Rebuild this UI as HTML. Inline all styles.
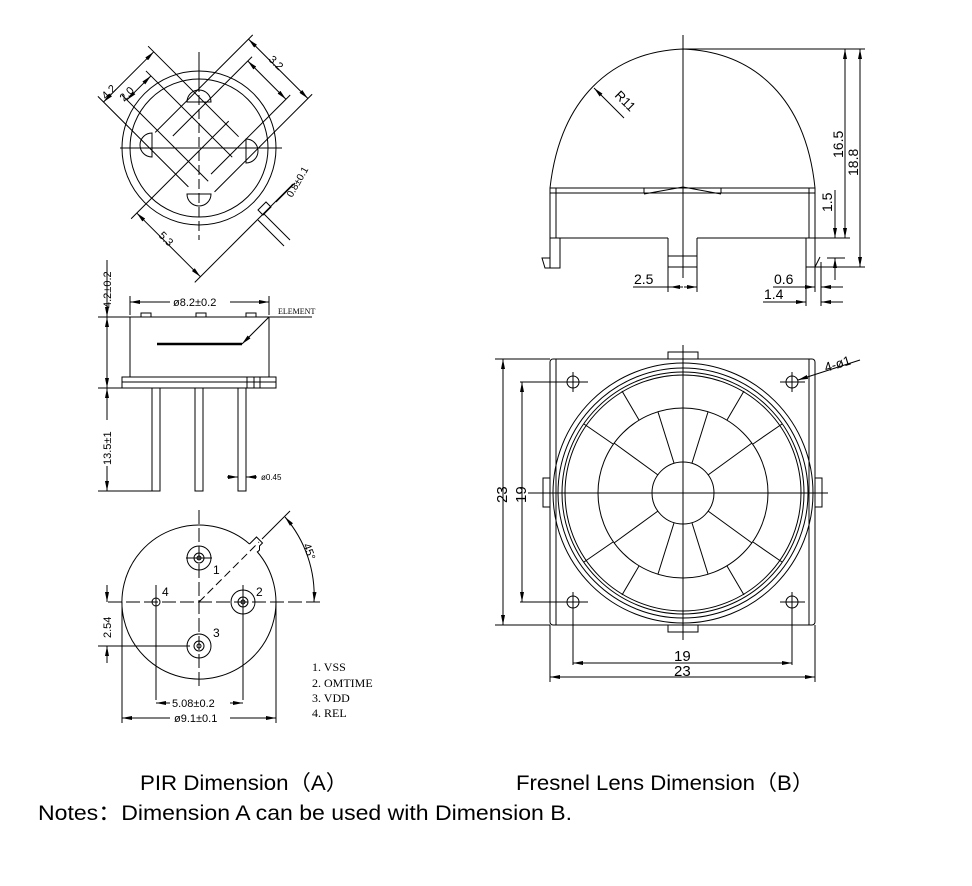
<!DOCTYPE html>
<html><head><meta charset="utf-8"><style>
html,body{margin:0;padding:0;background:#fff}
svg{display:block}
.t{font-family:"Liberation Sans",sans-serif;fill:#000;stroke:none}
.m{font-family:"Liberation Sans",sans-serif;fill:#000;stroke:none}
.s{font-family:"Liberation Serif",serif;fill:#000;stroke:none}
</style></head><body>
<svg width="972" height="886" viewBox="0 0 972 886" xmlns="http://www.w3.org/2000/svg">
<defs>
<marker id="a" viewBox="0 0 10 4" refX="10" refY="2" markerWidth="10" markerHeight="4" markerUnits="userSpaceOnUse" orient="auto-start-reverse"><path d="M0,0 L10,2 L0,4 z" fill="#000" stroke="none"/></marker>
</defs>
<g fill="none" stroke="#000" stroke-width="1">

<!-- ===== PIR top view ===== -->
<circle cx="199" cy="148" r="77"/>
<circle cx="199" cy="148" r="69"/>
<line x1="120" y1="148" x2="282" y2="148"/>
<line x1="199" y1="95" x2="199" y2="240" stroke-dasharray="10,4"/>
<line x1="199" y1="52" x2="199" y2="92"/>
<path d="M187,102 a12,12 0 0 1 24,0 z"/>
<path d="M152,133 a12,12 0 0 0 0,24 z"/>
<path d="M246,139 a12,12 0 0 1 0,24 z"/>
<path d="M187,194 a12,12 0 0 0 24,0 z"/>
<g transform="rotate(-45 199 148)">
 <g transform="translate(199 148)">
  <line x1="-35" y1="-108" x2="-35" y2="20"/>
  <line x1="36" y1="-108" x2="36" y2="20"/>
  <line x1="-17" y1="-92" x2="-17" y2="30"/>
  <line x1="17" y1="-92" x2="17" y2="30"/>
  <line x1="-35" y1="-100" x2="36" y2="-100" marker-start="url(#a)" marker-end="url(#a)"/>
  <line x1="-17" y1="-85" x2="17" y2="-85" marker-start="url(#a)" marker-end="url(#a)"/>
  <line x1="-20" y1="-42" x2="118" y2="-42"/>
  <line x1="-20" y1="42" x2="118" y2="42"/>
  <line x1="-10" y1="-27" x2="102" y2="-27"/>
  <line x1="-10" y1="27" x2="102" y2="27"/>
  <line x1="112" y1="-42" x2="112" y2="42" marker-start="url(#a)" marker-end="url(#a)"/>
  <line x1="96" y1="-27" x2="96" y2="27" marker-start="url(#a)" marker-end="url(#a)"/>
  <line x1="-98" y1="2" x2="40" y2="2"/>
  <line x1="-98" y1="92" x2="40" y2="92"/>
  <line x1="-90" y1="2" x2="-90" y2="92" marker-start="url(#a)" marker-end="url(#a)"/>
 </g>
</g>
<path d="M258,210 l8,-8 l5,5 l-8,8 z"/>
<line x1="264" y1="214" x2="290" y2="240"/>
<line x1="258" y1="220" x2="284" y2="246"/>
<line x1="276" y1="202" x2="295" y2="183"/>
<text class="m" font-size="11" transform="translate(106,100) rotate(-45)">4.2</text>
<text class="m" font-size="11" transform="translate(124,102) rotate(-45)">2.0</text>
<text class="m" font-size="11" transform="translate(268,60) rotate(45)">3.2</text>
<text class="m" font-size="11" transform="translate(158,236) rotate(45)">5.3</text>
<text class="m" font-size="10" transform="translate(292,198) rotate(-60)">0.8±0.1</text>

<!-- ===== PIR side view ===== -->
<path d="M130,317 h139 v60 h-139 z"/>
<path d="M141,317 v-4 h10 v4 M196,317 v-4 h10 v4 M246,317 v-4 h10 v4"/>
<rect x="122" y="377" width="154" height="11"/>
<line x1="122" y1="382" x2="276" y2="382"/>
<line x1="247" y1="377" x2="247" y2="388"/><line x1="254" y1="377" x2="254" y2="388"/><line x1="260" y1="377" x2="260" y2="388"/>
<rect x="152" y="388" width="8" height="103"/>
<rect x="195" y="388" width="8" height="103"/>
<rect x="238" y="388" width="8" height="103"/>
<line x1="157" y1="344" x2="242" y2="344" stroke-width="2.5"/>
<line x1="242" y1="344" x2="269" y2="317" marker-start="url(#a)"/>
<line x1="269" y1="317" x2="312" y2="317"/>
<text class="s" font-size="8" x="278" y="314">ELEMENT</text>
<line x1="130" y1="315" x2="130" y2="296"/><line x1="269" y1="315" x2="269" y2="296"/>
<line x1="130" y1="302" x2="269" y2="302" marker-start="url(#a)" marker-end="url(#a)"/>
<rect x="170" y="295" width="60" height="14" fill="#fff" stroke="none"/>
<text class="m" font-size="11" x="173" y="306">ø8.2±0.2</text>
<line x1="98" y1="317" x2="130" y2="317"/><line x1="98" y1="388" x2="122" y2="388"/><line x1="98" y1="491" x2="152" y2="491"/>
<line x1="107" y1="260" x2="107" y2="317" marker-end="url(#a)"/>
<line x1="107" y1="317" x2="107" y2="388" marker-start="url(#a)" marker-end="url(#a)"/>
<line x1="107" y1="388" x2="107" y2="491" marker-start="url(#a)" marker-end="url(#a)"/>
<rect x="100" y="420" width="14" height="46" fill="#fff" stroke="none"/>
<text class="m" font-size="11" transform="translate(111,308) rotate(-90)">4.2±0.2</text>
<text class="m" font-size="11" transform="translate(111,465) rotate(-90)">13.5±1</text>
<line x1="227" y1="477" x2="238" y2="477" marker-end="url(#a)"/>
<line x1="257" y1="477" x2="246" y2="477" marker-end="url(#a)"/>
<text class="m" font-size="8" x="261" y="480">ø0.45</text>

<!-- ===== PIR bottom view ===== -->
<path d="M249.5,544 A77,77 0 1 0 257,551.5"/>
<path d="M249.5,544 l7,-7 l6,6 l-3,3 v4 l-2,2"/>
<line x1="199" y1="602" x2="259" y2="542" stroke-dasharray="8,4"/>
<line x1="262" y1="539" x2="290" y2="511"/>
<line x1="108" y1="602" x2="320" y2="602" stroke-dasharray="14,4"/>
<line x1="199" y1="510" x2="199" y2="690" stroke-dasharray="14,4"/>
<path d="M285,517 A120,120 0 0 1 314,602" marker-start="url(#a)" marker-end="url(#a)"/>
<text class="m" font-size="11" transform="translate(303,545) rotate(70)">45°</text>
<circle cx="199" cy="558" r="12"/><circle cx="199" cy="558" r="5"/><circle cx="199" cy="558" r="2"/>
<line x1="186" y1="558" x2="212" y2="558"/>
<circle cx="243" cy="602" r="12"/><circle cx="243" cy="602" r="5"/><circle cx="243" cy="602" r="2"/>
<line x1="243" y1="585" x2="243" y2="700"/>
<circle cx="199" cy="646" r="12"/><circle cx="199" cy="646" r="5"/><circle cx="199" cy="646" r="2"/>
<circle cx="156" cy="602" r="4"/>
<line x1="156" y1="585" x2="156" y2="700"/>
<text class="t" font-size="12" x="213" y="574">1</text>
<text class="t" font-size="12" x="256" y="596">2</text>
<text class="t" font-size="12" x="213" y="637">3</text>
<text class="t" font-size="12" x="162" y="596">4</text>
<line x1="98" y1="646" x2="190" y2="646"/>
<line x1="122" y1="602" x2="122" y2="723"/><line x1="276" y1="602" x2="276" y2="723"/>
<line x1="107" y1="585" x2="107" y2="602" marker-end="url(#a)"/>
<line x1="107" y1="663" x2="107" y2="646" marker-end="url(#a)"/>
<text class="m" font-size="11" transform="translate(111,638) rotate(-90)">2.54</text>
<line x1="156" y1="703" x2="243" y2="703" marker-start="url(#a)" marker-end="url(#a)"/>
<rect x="170" y="696" width="60" height="14" fill="#fff" stroke="none"/>
<text class="m" font-size="11" x="172" y="707">5.08±0.2</text>
<line x1="122" y1="718" x2="276" y2="718" marker-start="url(#a)" marker-end="url(#a)"/>
<rect x="170" y="711" width="60" height="14" fill="#fff" stroke="none"/>
<text class="m" font-size="11" x="174" y="722">ø9.1±0.1</text>
<text class="s" font-size="12" x="312" y="671">1. VSS</text>
<text class="s" font-size="12" x="312" y="687">2. OMTIME</text>
<text class="s" font-size="12" x="312" y="702">3. VDD</text>
<text class="s" font-size="12" x="312" y="717">4. REL</text>

<!-- ===== Fresnel side view ===== -->
<path d="M550,188 C560,100 610,52 683,49 C756,52 806,100 815,188"/>
<line x1="550" y1="188" x2="815" y2="188"/>
<line x1="550" y1="193" x2="815" y2="193"/>
<path d="M644,188 v5 M721,188 v5 M644,194 L683,187 L721,194"/>
<path d="M550,188 v50 h6 v-50 M809,188 v50 h6 v-50"/>
<line x1="556" y1="238" x2="668" y2="238"/><line x1="697" y1="238" x2="809" y2="238"/>
<path d="M550,238 v30 h-5 l-3,-10 h8 M560,238 v30 h-10"/>
<path d="M668,238 v29 h29 v-29 M668,256 h29"/>
<path d="M806,238 v29 h9 l5,-10 M815,238 v29"/>
<line x1="683" y1="35" x2="683" y2="278"/>
<line x1="683" y1="49" x2="865" y2="49"/>
<line x1="815" y1="238" x2="850" y2="238"/>
<line x1="815" y1="267" x2="865" y2="267"/>
<line x1="845" y1="49" x2="845" y2="238" marker-start="url(#a)" marker-end="url(#a)"/>
<line x1="860" y1="49" x2="860" y2="267" marker-start="url(#a)" marker-end="url(#a)"/>
<line x1="835" y1="190" x2="835" y2="238" marker-end="url(#a)"/>
<line x1="835" y1="280" x2="835" y2="258" marker-end="url(#a)"/>
<line x1="827" y1="258" x2="845" y2="258"/>
<line x1="594" y1="88" x2="624" y2="118" marker-start="url(#a)"/>
<text class="m" font-size="13" transform="translate(614,96) rotate(45)">R11</text>
<text class="m" font-size="14" transform="translate(843,158) rotate(-90)">16.5</text>
<text class="m" font-size="14" transform="translate(858,176) rotate(-90)">18.8</text>
<text class="m" font-size="14" transform="translate(832,212) rotate(-90)">1.5</text>
<line x1="668" y1="267" x2="668" y2="292"/><line x1="697" y1="267" x2="697" y2="292"/>
<line x1="633" y1="287" x2="683" y2="287"/>
<line x1="670" y1="287" x2="683" y2="287" marker-start="url(#a)"/>
<line x1="697" y1="287" x2="684" y2="287" marker-start="url(#a)"/>
<text class="m" font-size="14" x="634" y="284">2.5</text>
<line x1="806" y1="267" x2="806" y2="306"/><line x1="815" y1="267" x2="815" y2="292"/><line x1="821" y1="262" x2="821" y2="306"/>
<line x1="773" y1="287" x2="815" y2="287" marker-end="url(#a)"/>
<line x1="843" y1="287" x2="821" y2="287" marker-end="url(#a)"/>
<line x1="763" y1="302" x2="806" y2="302" marker-end="url(#a)"/>
<line x1="843" y1="302" x2="821" y2="302" marker-end="url(#a)"/>
<text class="m" font-size="14" x="774" y="284">0.6</text>
<text class="m" font-size="14" x="764" y="299">1.4</text>

<!-- ===== Fresnel bottom view ===== -->
<rect x="550" y="359" width="265" height="266" rx="3"/>
<line x1="556" y1="359" x2="556" y2="625"/><line x1="809" y1="359" x2="809" y2="625"/>
<rect x="668" y="352" width="30" height="7"/>
<rect x="668" y="625" width="30" height="7"/>
<rect x="543" y="478" width="7" height="29"/>
<rect x="815" y="478" width="7" height="29"/>
<circle cx="683" cy="493" r="130"/>
<circle cx="683" cy="493" r="125"/>
<circle cx="683" cy="493" r="121"/>
<circle cx="683" cy="493" r="118"/>
<circle cx="683" cy="493" r="85"/>
<circle cx="683" cy="493" r="31"/>
<line x1="692" y1="463" x2="708" y2="412"/><line x1="674" y1="463" x2="658" y2="412"/>
<line x1="708" y1="475" x2="752" y2="443"/><line x1="658" y1="475" x2="614" y2="443"/>
<line x1="708" y1="511" x2="752" y2="543"/><line x1="658" y1="511" x2="614" y2="543"/>
<line x1="692" y1="523" x2="708" y2="574"/><line x1="674" y1="523" x2="658" y2="574"/>
<line x1="727" y1="420" x2="744" y2="391"/><line x1="639" y1="420" x2="622" y2="391"/>
<line x1="753" y1="444" x2="782" y2="424"/><line x1="613" y1="444" x2="584" y2="424"/>
<line x1="753" y1="542" x2="782" y2="562"/><line x1="613" y1="542" x2="584" y2="562"/>
<line x1="727" y1="566" x2="744" y2="595"/><line x1="639" y1="566" x2="622" y2="595"/>
<line x1="528" y1="493" x2="828" y2="493"/>
<line x1="683" y1="345" x2="683" y2="640"/>
<circle cx="573" cy="382" r="6"/><line x1="563" y1="382" x2="588" y2="382"/><line x1="573" y1="372" x2="573" y2="392"/>
<circle cx="792" cy="382" r="6"/><line x1="780" y1="382" x2="805" y2="382"/><line x1="792" y1="372" x2="792" y2="392"/>
<circle cx="573" cy="602" r="6"/><line x1="563" y1="602" x2="588" y2="602"/><line x1="573" y1="592" x2="573" y2="665"/>
<circle cx="792" cy="602" r="6"/><line x1="780" y1="602" x2="805" y2="602"/><line x1="792" y1="592" x2="792" y2="665"/>
<line x1="860" y1="360" x2="798" y2="380" marker-end="url(#a)"/>
<text class="m" font-size="13" transform="translate(826,372) rotate(-17)">4-ø1</text>
<line x1="495" y1="359" x2="550" y2="359"/><line x1="495" y1="625" x2="550" y2="625"/>
<line x1="520" y1="382" x2="573" y2="382"/><line x1="520" y1="602" x2="573" y2="602"/>
<line x1="503" y1="359" x2="503" y2="625" marker-start="url(#a)" marker-end="url(#a)"/>
<line x1="522" y1="382" x2="522" y2="602" marker-start="url(#a)" marker-end="url(#a)"/>
<text class="m" font-size="15" transform="translate(507,503) rotate(-90)">23</text>
<text class="m" font-size="15" transform="translate(526,503) rotate(-90)">19</text>
<line x1="550" y1="625" x2="550" y2="682"/><line x1="815" y1="625" x2="815" y2="682"/>
<line x1="573" y1="663" x2="792" y2="663" marker-start="url(#a)" marker-end="url(#a)"/>
<line x1="550" y1="677" x2="815" y2="677" marker-start="url(#a)" marker-end="url(#a)"/>
<text class="m" font-size="15" x="674" y="661">19</text>
<text class="m" font-size="15" x="674" y="676">23</text>
</g>

<text class="t" font-size="21" x="140" y="790" textLength="208" lengthAdjust="spacingAndGlyphs">PIR Dimension（A）</text>
<text class="t" font-size="21" x="516" y="790" textLength="298" lengthAdjust="spacingAndGlyphs">Fresnel Lens Dimension（B）</text>
<text class="t" font-size="21" x="38" y="820" textLength="534" lengthAdjust="spacingAndGlyphs">Notes：Dimension A can be used with Dimension B.</text>
</svg>
</body></html>
